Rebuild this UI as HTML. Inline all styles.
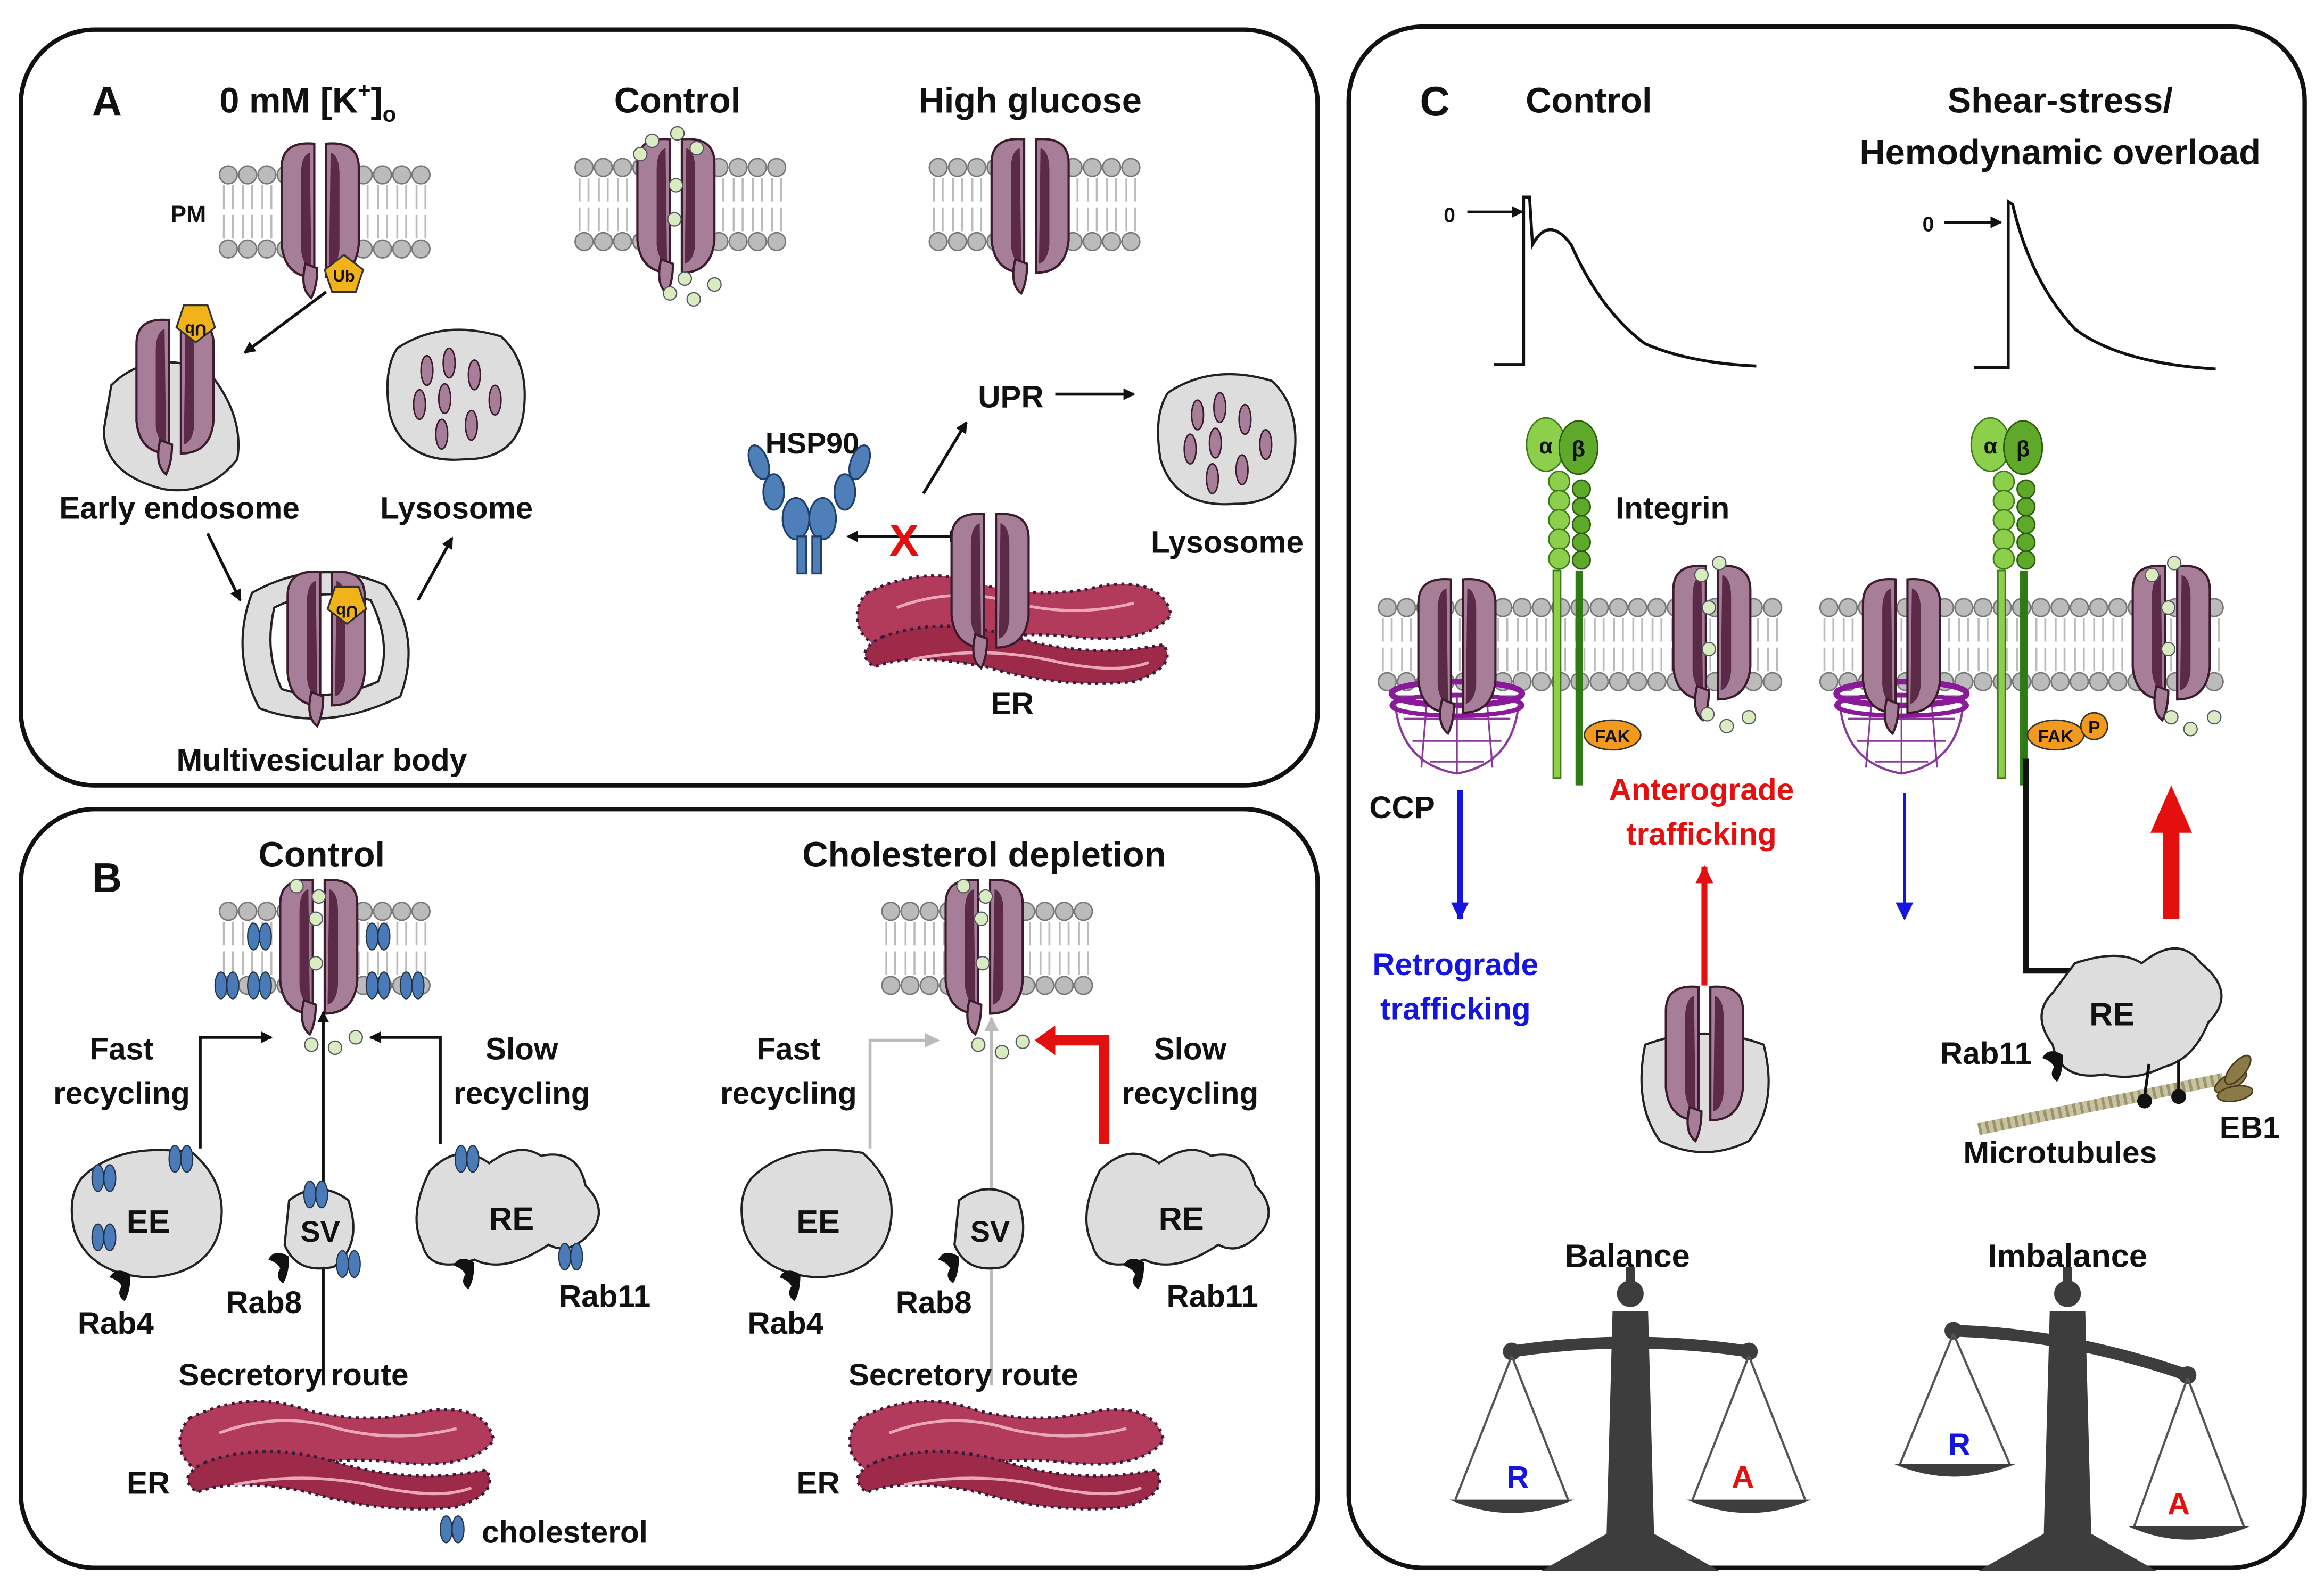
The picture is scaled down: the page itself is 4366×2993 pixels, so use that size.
<!DOCTYPE html>
<html><head><meta charset="utf-8">
<style>
html,body{margin:0;padding:0;background:#fff;}
svg{display:block;}
text{font-family:"Liberation Sans",sans-serif;font-weight:bold;fill:#111;}
</style></head>
<body>
<svg width="4366" height="2993" viewBox="0 0 1568 1075" xmlns="http://www.w3.org/2000/svg">
<defs>
 <marker id="ah" markerWidth="8" markerHeight="8" refX="7" refY="4" orient="auto-start-reverse" markerUnits="userSpaceOnUse"><path d="M0,0 L8,4 L0,8 Z" fill="#111"/></marker>
 <marker id="ahg" markerWidth="10" markerHeight="10" refX="9" refY="5" orient="auto" markerUnits="userSpaceOnUse"><path d="M0,0 L10,5 L0,10 Z" fill="#bbb"/></marker>
 <marker id="ahb" markerWidth="12" markerHeight="12" refX="11" refY="6" orient="auto" markerUnits="userSpaceOnUse"><path d="M0,0 L12,6 L0,12 Z" fill="#1515e0"/></marker>
 <marker id="ahr" markerWidth="12" markerHeight="12" refX="11" refY="6" orient="auto" markerUnits="userSpaceOnUse"><path d="M0,0 L12,6 L0,12 Z" fill="#e41010"/></marker>
 <g id="memseg">
  <circle cx="6" cy="0" r="6" fill="#bbb" stroke="#777" stroke-width="1"/>
  <circle cx="6" cy="50" r="6" fill="#bbb" stroke="#777" stroke-width="1"/>
  <path d="M3,7 v16 M9,7 v16 M3,27 v16 M9,27 v16" stroke="#bbb" stroke-width="1.3" fill="none"/>
 </g>
 <g id="ch">
  <path d="M-4,-46 Q-26,-48 -26,-30 L-26,22 Q-24,44 -4,44 Z" fill="#a77e98" stroke="#3b1b2c" stroke-width="1.5"/>
  <path d="M4,-46 Q26,-48 26,-30 L26,22 Q24,44 4,44 Z" fill="#a77e98" stroke="#3b1b2c" stroke-width="1.5"/>
  <path d="M-7,-40 Q-13,-38 -13,-25 L-13,25 Q-12,36 -6,38 Z" fill="#5b2a47"/>
  <path d="M7,-40 Q13,-38 13,-25 L13,25 Q12,36 6,38 Z" fill="#5b2a47"/>
  <path d="M-10,35 Q-14,52 -6,58 Q-2,50 -2,38 Z" fill="#a77e98" stroke="#3b1b2c" stroke-width="1.5"/>
 </g>
 <g id="ub"><path d="M0,-13 L13,-3 L8,12 L-8,12 L-13,-3 Z" fill="#f2b21a" stroke="#333" stroke-width="1.2"/><text x="0" y="5" font-size="11" text-anchor="middle">Ub</text></g>
 <g id="ubr"><path d="M0,13 L13,3 L8,-12 L-8,-12 L-13,3 Z" fill="#f2b21a" stroke="#333" stroke-width="1.2"/><text x="0" y="-1" font-size="11" text-anchor="middle" transform="rotate(180 0 0)">Ub</text></g>
 <g id="dot"><circle r="4.5" fill="#d8ecc0" stroke="#556" stroke-width="0.8"/></g>
 <g id="chol"><ellipse cx="-4" cy="0" rx="4" ry="9" fill="#4a7ab8" stroke="#234" stroke-width="0.8"/><ellipse cx="4" cy="0" rx="4" ry="9" fill="#4a7ab8" stroke="#234" stroke-width="0.8"/></g>
 <g id="rab"><path d="M0,0 q-10,-6 -14,2 q6,2 8,6 q-4,6 2,10 q4,-6 4,-18z" fill="#111"/></g>
 <g id="er">
  <path d="M-100,-25 Q-60,-45 -20,-30 Q20,-20 60,-30 Q100,-35 105,-10 Q90,10 40,5 Q0,0 -40,10 Q-90,25 -105,0 Q-110,-15 -100,-25Z" fill="#b23a5a" stroke="#3a1a3a" stroke-width="2" stroke-dasharray="2,3"/>
  <path d="M-90,5 Q-50,-10 0,5 Q50,20 100,10 Q110,25 80,35 Q30,40 -20,25 Q-70,15 -95,25 Q-110,15 -90,5Z" fill="#9e2a4a" stroke="#3a1a3a" stroke-width="2" stroke-dasharray="2,3"/>
  <path d="M-80,-15 Q-40,-30 0,-18 Q40,-8 80,-18" stroke="#e9a7b8" stroke-width="2" fill="none"/>
  <path d="M-70,20 Q-20,10 30,22 Q70,30 90,22" stroke="#e9a7b8" stroke-width="2" fill="none"/>
 </g>
 <g id="lyso">
  <path d="M-40,-30 Q-10,-50 30,-38 Q50,-20 45,15 Q40,45 5,45 Q-35,48 -45,15 Q-50,-15 -40,-30Z" fill="#ddd" stroke="#222" stroke-width="1.5"/>
  <ellipse cx="-20" cy="-15" rx="4" ry="10" fill="#a77e98" stroke="#3b1b2c"/>
  <ellipse cx="-5" cy="-20" rx="4" ry="10" fill="#a77e98" stroke="#3b1b2c"/>
  <ellipse cx="12" cy="-12" rx="4" ry="10" fill="#a77e98" stroke="#3b1b2c"/>
  <ellipse cx="-25" cy="8" rx="4" ry="10" fill="#a77e98" stroke="#3b1b2c"/>
  <ellipse cx="-8" cy="4" rx="4" ry="10" fill="#a77e98" stroke="#3b1b2c"/>
  <ellipse cx="26" cy="5" rx="4" ry="10" fill="#a77e98" stroke="#3b1b2c"/>
  <ellipse cx="10" cy="22" rx="4" ry="10" fill="#a77e98" stroke="#3b1b2c"/>
  <ellipse cx="-10" cy="28" rx="4" ry="10" fill="#a77e98" stroke="#3b1b2c"/>
 </g>
 <g id="integ">
  <ellipse cx="-12" cy="0" rx="13" ry="18" fill="#8ccf4a" stroke="#3c7a1a"/>
  <ellipse cx="10" cy="2" rx="13" ry="18" fill="#5ea82a" stroke="#2c5a10"/>
  <g fill="#8ccf4a" stroke="#3c7a1a"><circle cx="-3" cy="25" r="7"/><circle cx="-3" cy="38" r="7"/><circle cx="-3" cy="51" r="7"/><circle cx="-3" cy="64" r="7"/><circle cx="-3" cy="77" r="7"/></g>
  <g fill="#5ea82a" stroke="#2c5a10"><circle cx="12" cy="30" r="6"/><circle cx="12" cy="42" r="6"/><circle cx="12" cy="54" r="6"/><circle cx="12" cy="66" r="6"/><circle cx="12" cy="78" r="6"/></g>
  <rect x="-7" y="85" width="5" height="140" fill="#8ccf4a" stroke="#3c7a1a"/>
  <rect x="8" y="85" width="5" height="145" fill="#2f7a15"/>
  <text x="-12" y="6" font-size="15" text-anchor="middle">α</text>
  <text x="10" y="8" font-size="15" text-anchor="middle">β</text>
 </g>
 <g id="cage">
  <path d="M-42,0 Q-40,45 0,52 Q40,45 42,0 Z" fill="#fff" stroke="#8a3a9a" stroke-width="1.5"/>
  <path d="M-36,15 L36,15 M-30,30 L30,30 M-18,44 L18,44 M-20,0 L-24,48 M0,0 L0,52 M20,0 L24,48" stroke="#8a3a9a" stroke-width="1.2" fill="none"/>
  <ellipse cx="0" cy="-2" rx="44" ry="8" fill="none" stroke="#8a1a9a" stroke-width="4"/>
  <ellipse cx="0" cy="6" rx="44" ry="7" fill="none" stroke="#8a1a9a" stroke-width="3"/>
 </g>
 <g id="scale">
  <path d="M-12,0 L-16,150 L-60,175 L60,175 L16,150 L12,0 Z" fill="#3d3d3d"/>
  <circle cx="0" cy="-12" r="9" fill="#3d3d3d"/><rect x="-3" y="-30" width="6" height="20" fill="#3d3d3d"/>
 </g>
</defs>

<rect x="14" y="20" width="875" height="510" rx="50" fill="none" stroke="#111" stroke-width="3"/>
<rect x="14" y="546" width="875" height="512" rx="50" fill="none" stroke="#111" stroke-width="3"/>
<rect x="910" y="18" width="645" height="1040" rx="50" fill="none" stroke="#111" stroke-width="3"/>

<!-- ===== Panel A ===== -->
<text x="62" y="78" font-size="28">A</text>
<text x="148" y="76" font-size="24">0 mM [K<tspan font-size="15" dy="-10">+</tspan><tspan dy="10">]</tspan><tspan font-size="15" dy="6">o</tspan></text>
<text x="457" y="76" font-size="24" text-anchor="middle">Control</text>
<text x="695" y="76" font-size="24" text-anchor="middle">High glucose</text>

<g id="memA1">
 <use href="#memseg" x="148" y="118"/><use href="#memseg" x="161" y="118"/><use href="#memseg" x="174" y="118"/><use href="#memseg" x="187" y="118"/><use href="#memseg" x="239" y="118"/><use href="#memseg" x="252" y="118"/><use href="#memseg" x="265" y="118"/><use href="#memseg" x="278" y="118"/>
</g>
<use href="#memA1" x="240" y="-5"/>
<use href="#memA1" x="479" y="-5"/>
<text x="115" y="150" font-size="16">PM</text>
<use href="#ch" x="216" y="143"/>
<use href="#ub" x="232" y="185"/>
<use href="#ch" x="456" y="140"/>
<use href="#dot" x="440" y="95"/><use href="#dot" x="457" y="90"/><use href="#dot" x="470" y="100"/><use href="#dot" x="432" y="104"/><use href="#dot" x="455" y="148"/><use href="#dot" x="456" y="125"/>
<use href="#dot" x="452" y="198"/><use href="#dot" x="468" y="202"/><use href="#dot" x="482" y="192"/><use href="#dot" x="462" y="188"/>
<use href="#ch" x="695" y="140"/>

<path d="M75,260 Q100,235 140,250 Q165,280 160,310 Q140,335 110,330 Q70,320 70,290 Z" fill="#ddd" stroke="#222" stroke-width="1.5"/>
<use href="#ch" x="118" y="262"/>
<use href="#ubr" x="132" y="218"/>
<line x1="220" y1="197" x2="165" y2="238" stroke="#111" stroke-width="2" marker-end="url(#ah)"/>
<text x="121" y="350" font-size="21" text-anchor="middle">Early endosome</text>
<use href="#lyso" x="308" y="265"/>
<text x="308" y="350" font-size="21" text-anchor="middle">Lysosome</text>
<line x1="140" y1="360" x2="162" y2="405" stroke="#111" stroke-width="2" marker-end="url(#ah)"/>
<line x1="282" y1="405" x2="305" y2="363" stroke="#111" stroke-width="2" marker-end="url(#ah)"/>
<path d="M170,400 Q215,375 260,395 Q285,430 270,470 Q220,495 175,478 Q155,440 170,400Z" fill="#ddd" stroke="#222" stroke-width="1.5"/>
<path d="M185,410 Q215,395 250,405 Q265,435 255,460 Q220,475 190,465 Q178,440 185,410Z" fill="#fff" stroke="#222" stroke-width="1.5"/>
<use href="#ch" x="220" y="432"/>
<use href="#ubr" x="234" y="408"/>
<text x="217" y="520" font-size="21" text-anchor="middle">Multivesicular body</text>

<text x="548" y="306" font-size="20" text-anchor="middle">HSP90</text>
<g fill="#4f7fb8" stroke="#1f3f6a" stroke-width="1.2">
 <ellipse cx="512" cy="312" rx="6" ry="12" transform="rotate(-20 512 312)"/>
 <ellipse cx="522" cy="332" rx="7" ry="12"/>
 <ellipse cx="537" cy="350" rx="9" ry="14"/>
 <ellipse cx="580" cy="312" rx="6" ry="12" transform="rotate(20 580 312)"/>
 <ellipse cx="570" cy="332" rx="7" ry="12"/>
 <ellipse cx="555" cy="350" rx="9" ry="14"/>
 <rect x="538" y="362" width="6" height="25"/><rect x="548" y="362" width="6" height="25"/>
</g>
<line x1="572" y1="362" x2="648" y2="362" stroke="#111" stroke-width="2" marker-end="url(#ah)" marker-start="url(#ah)"/>
<text x="610" y="375" font-size="30" style="fill:#e41010" text-anchor="middle">X</text>
<use href="#er" x="685" y="425"/>
<use href="#ch" x="668" y="393"/>
<text x="683" y="482" font-size="21" text-anchor="middle">ER</text>
<line x1="623" y1="333" x2="652" y2="285" stroke="#111" stroke-width="2" marker-end="url(#ah)"/>
<text x="682" y="275" font-size="21" text-anchor="middle">UPR</text>
<line x1="712" y1="266" x2="765" y2="266" stroke="#111" stroke-width="2" marker-end="url(#ah)"/>
<use href="#lyso" x="828" y="295"/>
<text x="828" y="373" font-size="21" text-anchor="middle">Lysosome</text>

<!-- ===== Panel B ===== -->
<text x="62" y="602" font-size="28">B</text>
<text x="217" y="585" font-size="24" text-anchor="middle">Control</text>
<text x="664" y="585" font-size="24" text-anchor="middle">Cholesterol depletion</text>
<use href="#memA1" x="0" y="497"/>
<use href="#memA1" x="447" y="497"/>
<use href="#ch" x="215" y="640"/>
<use href="#ch" x="664" y="640"/>
<use href="#chol" x="175" y="632"/><use href="#chol" x="175" y="665"/><use href="#chol" x="153" y="665"/>
<use href="#chol" x="255" y="632"/><use href="#chol" x="255" y="665"/><use href="#chol" x="278" y="665"/>
<use href="#dot" x="200" y="598"/><use href="#dot" x="215" y="605"/><use href="#dot" x="213" y="620"/><use href="#dot" x="213" y="650"/>
<use href="#dot" x="210" y="705"/><use href="#dot" x="226" y="707"/><use href="#dot" x="240" y="700"/>
<use href="#dot" x="650" y="598"/><use href="#dot" x="665" y="605"/><use href="#dot" x="662" y="620"/><use href="#dot" x="663" y="650"/>
<use href="#dot" x="660" y="705"/><use href="#dot" x="676" y="710"/><use href="#dot" x="690" y="703"/>

<text x="82" y="715" font-size="21" text-anchor="middle">Fast</text>
<text x="82" y="745" font-size="21" text-anchor="middle">recycling</text>
<text x="352" y="715" font-size="21" text-anchor="middle">Slow</text>
<text x="352" y="745" font-size="21" text-anchor="middle">recycling</text>
<text x="532" y="715" font-size="21" text-anchor="middle">Fast</text>
<text x="532" y="745" font-size="21" text-anchor="middle">recycling</text>
<text x="803" y="715" font-size="21" text-anchor="middle">Slow</text>
<text x="803" y="745" font-size="21" text-anchor="middle">recycling</text>

<path d="M135,775 V700 H183" fill="none" stroke="#111" stroke-width="2" marker-end="url(#ah)"/>
<path d="M297,772 V700 H250" fill="none" stroke="#111" stroke-width="2" marker-end="url(#ah)"/>
<path d="M218,935 V683" fill="none" stroke="#111" stroke-width="2" marker-end="url(#ah)"/>
<path d="M587,775 V702 H633" fill="none" stroke="#bbb" stroke-width="2" marker-end="url(#ahg)"/>
<path d="M669,935 V687" fill="none" stroke="#bbb" stroke-width="2" marker-end="url(#ahg)"/>
<path d="M745,772 V702 H705" fill="none" stroke="#e41010" stroke-width="7"/>
<path d="M712,692 L698,702 L712,712 Z" fill="#e41010"/>

<g id="bcells">
 <path d="M55,795 Q80,770 130,778 Q155,800 148,830 Q140,860 100,862 Q60,860 50,830 Q45,808 55,795Z" fill="#ddd" stroke="#222" stroke-width="1.5"/>
 <text x="100" y="832" font-size="22" text-anchor="middle">EE</text>
 <path d="M195,810 Q215,795 235,810 Q245,840 225,855 Q200,860 192,840 Z" fill="#ddd" stroke="#222" stroke-width="1.5"/>
 <text x="216" y="838" font-size="20" text-anchor="middle">SV</text>
 <path d="M290,790 Q310,770 330,785 Q350,770 365,780 Q390,775 395,800 Q410,815 400,830 Q385,848 370,840 Q340,860 320,850 Q290,860 285,840 Q275,820 290,790Z" fill="#ddd" stroke="#222" stroke-width="1.5"/>
 <text x="345" y="830" font-size="22" text-anchor="middle">RE</text>
 <use href="#rab" x="88" y="860"/><use href="#rab" x="195" y="848"/><use href="#rab" x="320" y="852"/>
 <text x="78" y="900" font-size="21" text-anchor="middle">Rab4</text>
 <text x="178" y="886" font-size="21" text-anchor="middle">Rab8</text>
 <text x="198" y="935" font-size="21" text-anchor="middle">Secretory route</text>
 <use href="#er" x="228" y="982"/>
 <text x="100" y="1008" font-size="21" text-anchor="middle">ER</text>
</g>
<use href="#bcells" x="452" y="0"/>
<text x="408" y="882" font-size="21" text-anchor="middle">Rab11</text>
<text x="818" y="882" font-size="21" text-anchor="middle">Rab11</text>
<use href="#chol" x="70" y="795"/><use href="#chol" x="122" y="782"/><use href="#chol" x="70" y="835"/>
<use href="#chol" x="213" y="806"/><use href="#chol" x="235" y="853"/>
<use href="#chol" x="315" y="782"/><use href="#chol" x="385" y="848"/>
<use href="#chol" x="305" y="1032"/>
<text x="325" y="1041" font-size="21">cholesterol</text>

<!-- ===== Panel C ===== -->
<text x="958" y="78" font-size="28">C</text>
<text x="1072" y="76" font-size="24" text-anchor="middle">Control</text>
<text x="1390" y="76" font-size="24" text-anchor="middle">Shear-stress/</text>
<text x="1390" y="111" font-size="24" text-anchor="middle">Hemodynamic overload</text>
<text x="978" y="150" font-size="14" text-anchor="middle">0</text>
<line x1="990" y1="143" x2="1027" y2="143" stroke="#111" stroke-width="1.8" marker-end="url(#ah)"/>
<path d="M1008,246 H1028 V133 L1032,133 L1034,165 Q1045,145 1060,165 Q1080,210 1110,232 Q1140,245 1185,247" fill="none" stroke="#111" stroke-width="2"/>
<text x="1301" y="156" font-size="14" text-anchor="middle">0</text>
<line x1="1312" y1="150" x2="1350" y2="150" stroke="#111" stroke-width="1.8" marker-end="url(#ah)"/>
<path d="M1332,248 H1355 V136 L1358,138 Q1370,190 1400,222 Q1430,245 1495,249" fill="none" stroke="#111" stroke-width="2"/>

<g id="memC">
<use href="#memseg" x="930" y="410"/><use href="#memseg" x="943" y="410"/><use href="#memseg" x="956" y="410"/><use href="#memseg" x="969" y="410"/><use href="#memseg" x="982" y="410"/><use href="#memseg" x="995" y="410"/><use href="#memseg" x="1008" y="410"/><use href="#memseg" x="1021" y="410"/><use href="#memseg" x="1034" y="410"/><use href="#memseg" x="1047" y="410"/><use href="#memseg" x="1060" y="410"/><use href="#memseg" x="1073" y="410"/><use href="#memseg" x="1086" y="410"/><use href="#memseg" x="1099" y="410"/><use href="#memseg" x="1112" y="410"/><use href="#memseg" x="1125" y="410"/><use href="#memseg" x="1138" y="410"/><use href="#memseg" x="1151" y="410"/><use href="#memseg" x="1164" y="410"/><use href="#memseg" x="1177" y="410"/><use href="#memseg" x="1190" y="410"/>
</g>
<use href="#memC" x="298" y="0"/>
<use href="#integ" x="1055" y="300"/>
<use href="#integ" x="1355" y="300"/>
<text x="1090" y="350" font-size="21">Integrin</text>
<use href="#cage" x="983" y="470"/>
<use href="#ch" x="983" y="437"/>
<use href="#cage" x="1283" y="470"/>
<use href="#ch" x="1283" y="437"/>
<use href="#ch" x="1155" y="428"/>
<use href="#ch" x="1465" y="428"/>
<use href="#dot" x="1148" y="388"/><use href="#dot" x="1160" y="380"/><use href="#dot" x="1153" y="410"/><use href="#dot" x="1153" y="438"/><use href="#dot" x="1165" y="490"/><use href="#dot" x="1180" y="484"/><use href="#dot" x="1152" y="482"/>
<use href="#dot" x="1452" y="388"/><use href="#dot" x="1467" y="380"/><use href="#dot" x="1463" y="410"/><use href="#dot" x="1463" y="438"/><use href="#dot" x="1478" y="492"/><use href="#dot" x="1494" y="484"/><use href="#dot" x="1465" y="484"/>
<ellipse cx="1088" cy="496" rx="19" ry="10" fill="#f29a1e" stroke="#333"/><text x="1088" y="501" font-size="12" text-anchor="middle">FAK</text>
<ellipse cx="1387" cy="496" rx="19" ry="10" fill="#f29a1e" stroke="#333"/><text x="1387" y="501" font-size="12" text-anchor="middle">FAK</text>
<circle cx="1413" cy="490" r="9" fill="#f29a1e" stroke="#333"/><text x="1413" y="495" font-size="12" text-anchor="middle">P</text>
<text x="946" y="552" font-size="21" text-anchor="middle">CCP</text>
<line x1="985" y1="533" x2="985" y2="620" stroke="#1515e0" stroke-width="4" marker-end="url(#ahb)"/>
<text x="982" y="658" font-size="21" text-anchor="middle" style="fill:#1515e0">Retrograde</text>
<text x="982" y="688" font-size="21" text-anchor="middle" style="fill:#1515e0">trafficking</text>
<text x="1148" y="540" font-size="21" text-anchor="middle" style="fill:#e41010">Anterograde</text>
<text x="1148" y="570" font-size="21" text-anchor="middle" style="fill:#e41010">trafficking</text>
<line x1="1150" y1="665" x2="1150" y2="585" stroke="#e41010" stroke-width="4" marker-end="url(#ahr)"/>
<path d="M1110,705 Q1150,690 1190,705 Q1200,745 1180,770 Q1150,785 1120,770 Q1102,745 1110,705Z" fill="#ddd" stroke="#222" stroke-width="1.5"/>
<use href="#ch" x="1150" y="712"/>
<line x1="1285" y1="535" x2="1285" y2="620" stroke="#1515e0" stroke-width="2" marker-end="url(#ahb)"/>
<path d="M1367,512 V655 H1408" fill="none" stroke="#111" stroke-width="4"/>
<path d="M1402,648 L1413,655 L1402,662Z" fill="#111"/>
<path d="M1465,620 V560" stroke="#e41010" stroke-width="11"/>
<path d="M1451,562 L1465,530 L1479,562Z" fill="#e41010"/>
<path d="M1400,650 Q1430,640 1445,650 Q1470,630 1485,650 Q1510,670 1490,690 Q1480,715 1460,720 Q1440,730 1420,725 Q1390,730 1385,705 Q1370,685 1385,670 Z" fill="#ddd" stroke="#222" stroke-width="1.5"/>
<text x="1425" y="692" font-size="22" text-anchor="middle">RE</text>
<use href="#rab" x="1392" y="712"/>
<text x="1340" y="718" font-size="21" text-anchor="middle">Rab11</text>
<line x1="1335" y1="762" x2="1500" y2="728" stroke="#c9c3a0" stroke-width="8"/>
<line x1="1335" y1="762" x2="1500" y2="728" stroke="#9a9470" stroke-width="8" stroke-dasharray="2,3"/>
<g fill="#8a7a48" stroke="#4a3a18"><ellipse cx="1505" cy="730" rx="12" ry="5" transform="rotate(-30 1505 730)"/><ellipse cx="1510" cy="722" rx="12" ry="5" transform="rotate(-50 1510 722)"/><ellipse cx="1508" cy="738" rx="12" ry="5" transform="rotate(-10 1508 738)"/></g>
<line x1="1450" y1="718" x2="1447" y2="740" stroke="#111" stroke-width="2"/><circle cx="1447" cy="743" r="5" fill="#111"/>
<line x1="1470" y1="715" x2="1470" y2="737" stroke="#111" stroke-width="2"/><circle cx="1470" cy="740" r="5" fill="#111"/>
<text x="1518" y="768" font-size="21" text-anchor="middle">EB1</text>
<text x="1390" y="785" font-size="21" text-anchor="middle">Microtubules</text>

<text x="1098" y="855" font-size="22" text-anchor="middle">Balance</text>
<text x="1395" y="855" font-size="22" text-anchor="middle">Imbalance</text>
<use href="#scale" x="1100" y="885"/>
<path d="M1020,912 Q1100,900 1180,912" stroke="#3d3d3d" stroke-width="8" fill="none"/>
<circle cx="1020" cy="912" r="6" fill="#3d3d3d"/><circle cx="1180" cy="912" r="6" fill="#3d3d3d"/>
<path d="M1020,915 L982,1012 M1020,915 L1058,1012 M1180,915 L1142,1012 M1180,915 L1218,1012" stroke="#555" stroke-width="1.5"/>
<path d="M978,1012 Q1020,1030 1062,1012 Z" fill="#3d3d3d"/>
<path d="M1138,1012 Q1180,1030 1222,1012 Z" fill="#3d3d3d"/>
<text x="1024" y="1004" font-size="21" text-anchor="middle" style="fill:#1515e0">R</text>
<text x="1176" y="1004" font-size="21" text-anchor="middle" style="fill:#e41010">A</text>
<use href="#scale" x="1395" y="885"/>
<path d="M1318,898 Q1395,900 1476,928" stroke="#3d3d3d" stroke-width="8" fill="none"/>
<circle cx="1318" cy="898" r="6" fill="#3d3d3d"/><circle cx="1476" cy="928" r="6" fill="#3d3d3d"/>
<path d="M1318,900 L1282,988 M1318,900 L1356,988 M1476,930 L1440,1030 M1476,930 L1514,1030" stroke="#555" stroke-width="1.5"/>
<path d="M1278,988 Q1318,1005 1360,988 Z" fill="#3d3d3d"/>
<path d="M1436,1030 Q1476,1048 1518,1030 Z" fill="#3d3d3d"/>
<text x="1322" y="982" font-size="21" text-anchor="middle" style="fill:#1515e0">R</text>
<text x="1470" y="1022" font-size="21" text-anchor="middle" style="fill:#e41010">A</text>
</svg>
</body></html>
